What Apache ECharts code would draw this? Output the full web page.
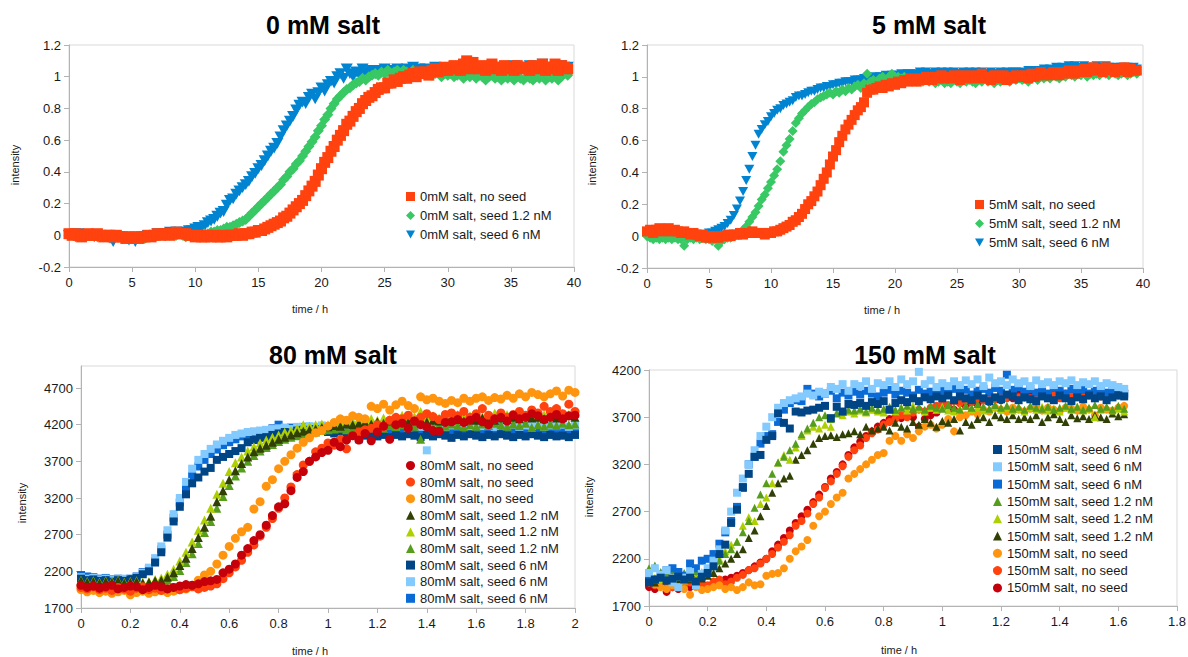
<!DOCTYPE html>
<html>
<head>
<meta charset="utf-8">
<title>Aggregation kinetics at different salt concentrations</title>
<script src="https://cdn.jsdelivr.net/npm/echarts@6/dist/echarts.min.js"></script>
<style>
  html, body { margin: 0; padding: 0; background: #ffffff; }
  #chart { width: 1188px; height: 657px; }
</style>
</head>
<body>
<div id="chart"></div>
<script>
// ---------- sampling times (hours) ----------
const hoursTop = [
  0,0.25,0.5,0.75,1,1.25,1.5,1.75,2,2.25,2.5,2.75,3,3.25,3.5,3.75,4,4.25,4.5,4.75,
  5,5.25,5.5,5.75,6,6.25,6.5,6.75,7,7.25,7.5,7.75,8,8.25,8.5,8.75,9,9.25,9.5,9.75,
  10,10.25,10.5,10.75,11,11.25,11.5,11.75,12,12.25,12.5,12.75,13,13.25,13.5,13.75,14,14.25,14.5,14.75,
  15,15.25,15.5,15.75,16,16.25,16.5,16.75,17,17.25,17.5,17.75,18,18.25,18.5,18.75,19,19.25,19.5,19.75,
  20,20.25,20.5,20.75,21,21.25,21.5,21.75,22,22.25,22.5,22.75,23,23.25,23.5,23.75,24,24.25,24.5,24.75,
  25,25.25,25.5,25.75,26,26.25,26.5,26.75,27,27.25,27.5,27.75,28,28.25,28.5,28.75,29,29.25,29.5,29.75,
  30,30.25,30.5,30.75,31,31.25,31.5,31.75,32,32.25,32.5,32.75,33,33.25,33.5,33.75,34,34.25,34.5,34.75,
  35,35.25,35.5,35.75,36,36.25,36.5,36.75,37,37.25,37.5,37.75,38,38.25,38.5,38.75,39,39.25,39.5
];

// ---------- 0 mM salt (normalised intensity) ----------
const noSeed0 = [
  0.01,0,0.01,0,-0.01,0,0.01,0,0,0.01,0,-0.01,0,0,-0.01,0,-0.01,
  -0.01,-0.02,-0.01,-0.02,-0.01,-0.02,-0.01,-0.01,
  0,-0.01,0,0.01,0,0.01,0.01,0,0.01,0.02,0.01,0.01,
  0.01,0,0,-0.01,0,-0.01,-0.01,0,-0.01,0,-0.01,-0.01,0,-0.01,0,0,0,0.01,0,0.01,
  0.01,0.02,0.02,0.03,0.03,0.04,0.05,0.06,
  0.07,0.08,0.09,0.11,0.12,0.14,0.16,0.18,
  0.2,0.22,0.25,0.28,0.31,0.34,0.38,0.42,
  0.46,0.49,0.53,0.56,0.6,0.63,0.66,0.7,
  0.72,0.75,0.78,0.8,0.83,0.85,0.87,0.88,
  0.9,0.92,0.93,0.93,0.96,0.96,0.98,0.97,
  0.99,1,0.99,1.01,1.02,1,1.03,1.02,
  1.03,1.01,1.04,1.05,1.03,1.04,1.06,1.04,
  1.05,1.07,1.05,1.04,1.08,1.1,1.05,1.09,
  1.06,1.05,1.07,1.04,1.06,1.08,1.05,1.06,
  1.04,1.07,1.05,1.06,1.04,1.07,1.05,1.06,
  1.05,1.04,1.07,1.05,1.06,1.08,1.04,1.06,
  1.05,1.08,1.04,1.07,1.06,1.05
];
const seed12nM0 = [
  0,0.01,0,0,-0.01,0,0,0.01,0,-0.01,0,-0.01,0,-0.01,-0.01,0,-0.01,
  -0.02,-0.01,-0.02,-0.02,-0.01,-0.02,-0.01,-0.02,
  -0.01,0,0,0.01,0,0,0.01,0,0.01,0,0.01,0,
  -0.01,0,0,-0.01,0,0,0.01,0.01,0.02,0.02,0.03,0.03,0.04,0.05,0.05,0.06,0.07,0.08,0.09,0.1,
  0.12,0.14,0.16,0.18,0.2,0.22,0.24,0.26,
  0.28,0.3,0.32,0.35,0.37,0.4,0.42,0.45,
  0.47,0.5,0.53,0.56,0.59,0.62,0.66,0.69,
  0.73,0.76,0.8,0.83,0.86,0.88,0.9,0.92,
  0.93,0.95,0.96,0.97,0.99,0.98,1,1.01,
  1.02,1.01,1.03,1.02,1.04,1.02,1.03,1.04,
  1.02,1.04,1.03,1.02,1.04,1.03,1.01,1.03,
  1.02,1.03,1.01,1.02,1.03,1,1.02,1.01,
  1.02,1,1.01,1.03,0.99,1.01,1,1.02,
  0.99,1.01,1,0.98,1,1.01,0.99,1,
  0.98,1,0.99,1.01,0.98,1,0.99,0.98,
  1,0.99,0.98,1,0.99,1.01,0.98,1,
  0.99,1.01,0.98,1,1.02,1.01
];
const seed6nM0 = [
  0,0,-0.01,0.01,0,-0.01,0,0,-0.01,0,-0.01,0,-0.01,-0.02,-0.04,-0.01,-0.01,
  -0.02,-0.01,-0.03,-0.02,-0.04,-0.01,-0.02,-0.01,
  0,-0.01,0,0.01,0,0.01,0.01,0.02,0.01,0.02,0.02,0.01,
  0.02,0.03,0.03,0.04,0.05,0.05,0.06,0.08,0.09,0.1,0.12,0.14,0.15,0.19,0.22,0.23,0.26,0.28,0.3,0.32,
  0.34,0.37,0.39,0.42,0.44,0.47,0.5,0.53,
  0.55,0.58,0.62,0.66,0.69,0.72,0.75,0.79,
  0.82,0.84,0.83,0.87,0.89,0.86,0.9,0.93,
  0.91,0.95,0.97,0.96,1,1.02,0.99,1.05,
  1.02,1,1.03,1.01,1.05,1.02,1.03,1.04,
  1.02,1.04,1.03,1.05,1.03,1.04,1.02,1.05,
  1.04,1.03,1.05,1.04,1.06,1.03,1.05,1.04,
  1.05,1.03,1.04,1.06,1.04,1.05,1.03,1.05,
  1.04,1.06,1.05,1.03,1.05,1.04,1.06,1.05,
  1.04,1.05,1.06,1.04,1.05,1.03,1.05,1.06,
  1.05,1.04,1.06,1.05,1.07,1.04,1.05,1.06,
  1.05,1.07,1.04,1.06,1.05,1.08,1.05,1.06,
  1.04,1.06,1.05,1.07,1.05,1.06
];

// ---------- 5 mM salt (normalised intensity) ----------
const noSeed5 = [
  0.03,0.04,0.02,0.04,0.05,0.03,0.04,0.05,0.03,0.04,0.03,0.02,0.03,0.02,0.01,0.02,0.01,
  0,0.01,-0.01,0,-0.01,0,-0.01,0,
  0,0.01,0,0.01,0.01,0.02,0.01,0.02,0.02,0.03,0.02,0.02,
  0.02,0.01,0.02,0.02,0.03,0.03,0.04,0.05,0.06,0.07,0.09,0.1,0.12,0.14,0.17,0.2,0.22,0.25,0.28,0.32,
  0.36,0.4,0.45,0.5,0.54,0.59,0.63,0.67,
  0.7,0.73,0.76,0.79,0.81,0.84,0.9,0.92,
  0.92,0.93,0.94,0.93,0.95,0.94,0.96,0.95,
  0.97,0.96,0.98,0.97,0.99,0.98,0.97,0.99,
  0.98,1,0.99,0.98,1,0.99,1.01,0.99,
  1,0.99,1.01,1,0.98,1.01,0.99,1,
  1.01,0.99,1,1.02,0.99,1,0.98,1.01,
  1,0.99,1.01,0.98,1,0.99,1.01,1,
  1,1.01,0.99,1.02,1,1.01,1.03,1.01,
  1.02,1.01,1.03,1.02,1.01,1.03,1.02,1.04,
  1.03,1.02,1.04,1.03,1.05,1.03,1.04,1.06,
  1.04,1.05,1.03,1.06,1.04,1.05,1.03,1.05,
  1.04,1.06,1.03,1.05,1.04,1.04
];
const seed12nM5 = [
  0,-0.01,-0.02,-0.01,-0.02,-0.01,-0.02,-0.01,-0.02,-0.01,-0.02,-0.02,-0.06,-0.02,-0.01,-0.02,-0.01,
  -0.02,-0.01,-0.02,-0.02,-0.03,-0.02,-0.06,-0.03,
  -0.02,-0.01,-0.01,0,0.01,0.02,0.04,0.06,0.09,0.12,0.15,0.19,
  0.23,0.26,0.3,0.34,0.38,0.42,0.47,0.53,0.57,0.61,0.66,0.71,0.74,0.77,0.79,0.81,0.83,0.84,0.86,0.87,
  0.88,0.89,0.9,0.89,0.91,0.9,0.92,0.91,
  0.93,0.92,0.94,0.95,0.93,0.96,1.02,0.97,
  0.98,0.97,0.99,1,0.98,1,1.02,1,
  1,0.99,1,0.98,0.99,0.98,0.97,0.98,
  0.97,0.98,0.97,0.98,0.96,0.97,0.98,0.96,
  0.97,0.96,0.98,0.97,0.96,0.98,0.97,0.98,
  0.97,0.96,0.98,0.97,0.99,0.97,0.98,0.96,
  0.98,0.97,0.99,0.98,0.97,0.99,0.98,0.99,
  0.98,0.99,0.97,0.99,1,0.98,1,0.99,
  1,0.99,1.01,1,0.99,1.01,1,1.02,
  1.01,1,1.02,1.01,1.03,1,1.02,1.01,
  1.02,1.01,1.03,1.02,1.01,1.03,1.02,1.01,
  1.02,1.03,1.01,1.02,1.03,1.02
];
const seed6nM5 = [
  0.02,0.03,0.01,0.03,0.04,0.02,0.03,0.04,0.02,0.03,0.02,0.02,0.01,0.02,0.01,0.01,0,
  0.01,0,0.01,0.02,0.02,0.03,0.04,0.05,
  0.06,0.08,0.1,0.13,0.17,0.22,0.28,0.35,0.42,0.5,0.57,0.64,
  0.67,0.7,0.72,0.75,0.77,0.79,0.8,0.82,0.83,0.84,0.85,0.87,0.88,0.88,0.89,0.9,0.91,0.91,0.92,0.93,
  0.93,0.94,0.94,0.95,0.95,0.96,0.96,0.97,
  0.97,0.97,0.98,0.98,0.98,0.99,0.99,0.99,
  1,0.99,1,1,1.01,1,1.01,1.01,
  1.01,1.02,1.01,1.02,1.02,1.01,1.02,1.03,
  1.02,1.03,1.02,1.02,1.03,1.02,1.03,1.02,
  1.03,1.02,1.03,1.02,1.02,1.03,1.02,1.03,
  1.02,1.03,1.02,1.03,1.02,1.02,1.03,1.02,
  1.02,1.03,1.02,1.03,1.02,1.03,1.03,1.02,
  1.03,1.02,1.04,1.03,1.04,1.03,1.04,1.05,
  1.04,1.05,1.04,1.06,1.05,1.06,1.05,1.07,
  1.06,1.07,1.06,1.05,1.07,1.06,1.05,1.06,
  1.07,1.06,1.05,1.07,1.06,1.05,1.06,1.05,
  1.06,1.05,1.06,1.05,1.06,1.05
];

// ---------- 80 mM salt (raw intensity) ----------
const hours80 = [
  0,0.025,0.05,0.075,0.1,0.125,0.15,0.175,0.2,0.225,
  0.25,0.275,0.3,0.325,0.35,0.375,0.4,0.425,0.45,0.475,
  0.5,0.525,0.55,0.575,0.6,0.625,0.65,0.675,0.7,0.725,
  0.75,0.775,0.8,0.825,0.85,0.875,0.9,0.925,0.95,0.975,
  1,1.025,1.05,1.075,1.1,1.125,1.15,1.175,1.2,1.225,
  1.25,1.275,1.3,1.325,1.35,1.375,1.4,1.425,1.45,1.475,
  1.5,1.525,1.55,1.575,1.6,1.625,1.65,1.675,1.7,1.725,
  1.75,1.775,1.8,1.825,1.85,1.875,1.9,1.925,1.95,1.975,
  2
];
const noSeed80a = [
  2010,1980,2000,1970,1990,2010,1960,1980,2000,1990,
  1950,1980,2010,1990,1960,1980,2000,2020,2010,2030,
  2060,2070,2090,2180,2230,2300,2420,2510,2620,2700,
  2830,2960,3080,3120,3300,3480,3560,3700,3760,3820,
  3850,3960,3900,3990,4050,3990,4080,3980,4100,4180,
  4000,4200,4220,4150,4250,4200,4170,4120,4110,4230,
  4240,4270,4230,4260,4300,4240,4200,4280,4300,4250,
  4330,4280,4300,4350,4320,4270,4300,4340,4280,4320,
  4330
];
const noSeed80b = [
  1980,1960,1990,1950,1970,1940,1980,1960,1930,1970,
  1990,1950,1970,1940,1960,1980,1950,1970,1990,1960,
  1980,2000,2030,2100,2180,2260,2350,2460,2560,2680,
  2800,2920,3060,3200,3350,3520,3650,3700,3830,3880,
  3950,3920,4000,3870,4050,4100,4130,4150,4200,4170,
  4260,4300,4280,4330,4250,4300,4350,4310,4270,4340,
  4360,4320,4380,4300,4350,4420,4330,4280,4360,4300,
  4340,4380,4330,4400,4360,4450,4380,4420,4350,4480,
  4380
];
const noSeed80c = [
  1950,1920,1940,1910,1930,1900,1920,1940,1880,1910,
  1930,1900,1920,1940,1910,1930,1950,1960,2010,2080,
  2150,2200,2300,2420,2540,2650,2740,2800,3050,3150,
  3360,3450,3600,3700,3790,3880,3960,4020,4090,4120,
  4180,4230,4280,4260,4320,4300,4280,4450,4420,4480,
  4400,4470,4520,4460,4420,4580,4540,4560,4520,4490,
  4530,4500,4560,4520,4560,4580,4530,4570,4550,4600,
  4560,4620,4580,4640,4610,4580,4620,4660,4590,4670,
  4640
];
const seed12nM80a = [
  2070,2050,2060,2040,2060,2050,2070,2040,2050,2060,
  2040,2050,2070,2080,2120,2180,2280,2380,2510,2660,
  2800,2950,3150,3300,3450,3570,3670,3760,3830,3880,
  3920,3960,4000,4030,4060,4090,4110,4130,4140,4160,
  4170,4190,4180,4210,4200,4220,4230,4210,4240,4220,
  4250,4230,4260,4240,4250,4270,4240,4260,4250,4280,
  4260,4270,4250,4280,4260,4290,4270,4260,4290,4270,
  4300,4280,4310,4290,4300,4280,4310,4290,4300,4320,
  4300
];
const seed12nM80b = [
  2080,2060,2070,2050,2070,2060,2080,2050,2060,2070,
  2050,2060,2090,2110,2160,2230,2340,2460,2600,2760,
  2900,3060,3250,3400,3560,3680,3760,3840,3900,3950,
  3990,4030,4060,4100,4120,4150,4200,4180,4200,4210,
  4200,4230,4220,4250,4240,4260,4250,4280,4260,4290,
  4270,4300,4330,4280,4310,4380,4300,4320,4290,4330,
  4310,4340,4300,4320,4350,4310,4330,4360,4320,4340,
  4310,4350,4330,4360,4320,4340,4370,4330,4350,4340,
  4360
];
const seed12nM80c = [
  2060,2040,2050,2030,2050,2040,2060,2030,2040,2050,
  2030,2040,2060,2050,2080,2130,2210,2320,2440,2580,
  2730,2880,3060,3220,3370,3500,3610,3700,3780,3840,
  3890,3930,3970,4000,4030,4050,4070,4090,4100,4120,
  4130,4140,4150,4130,4160,4150,4170,4160,4180,4150,
  4190,4170,4200,4160,4180,4000,4190,4170,4200,4180,
  4210,4190,4170,4200,4180,4210,4190,4220,4200,4180,
  4210,4190,4220,4160,4200,4180,4210,4190,4220,4200,
  4210
];
const seed6nM80a = [
  2100,2080,2090,2070,2080,2060,2080,2070,2090,2110,
  2160,2200,2320,2460,2660,2880,3080,3250,3400,3480,
  3560,3610,3720,3760,3800,3840,3880,3960,3990,4020,
  4030,4060,4080,4100,4090,4120,4130,4110,4140,4120,
  4100,4080,4110,4070,4060,4080,4050,4070,4040,4060,
  4030,4060,4040,4070,4050,4030,4060,4040,4070,4050,
  4020,4060,4040,4070,4050,4030,4060,4040,4070,4050,
  4030,4060,4040,4070,4050,4030,4060,4040,4050,4030,
  4060
];
const seed6nM80b = [
  2120,2100,2110,2090,2100,2080,2090,2100,2080,2120,
  2180,2250,2380,2540,2760,2980,3200,3420,3600,3720,
  3800,3870,3930,3980,4020,4060,4080,4100,4110,4120,
  4130,4140,4150,4160,4140,4170,4160,4180,4170,4190,
  4180,4170,4190,4180,4200,4180,4190,4170,4200,4180,
  4190,4170,4200,4180,4190,4170,3850,4180,4200,4170,
  4190,4180,4200,4170,4190,4180,4200,4170,4190,4180,
  4200,4170,4190,4180,4200,4170,4190,4180,4200,4170,
  4190
];
const seed6nM80c = [
  2150,2130,2120,2100,2110,2090,2100,2080,2100,2130,
  2190,2230,2340,2500,2700,2930,3140,3340,3500,3630,
  3720,3800,3860,3920,3960,4000,4040,4060,4080,4100,
  4120,4150,4200,4150,4160,4140,4170,4150,4160,4140,
  4150,4130,4150,4120,4140,4000,4130,4110,4130,4100,
  4120,4090,4110,4100,4120,4090,4110,4100,4120,4090,
  4110,4100,4120,4090,4110,4100,4120,4090,4110,4100,
  4120,4090,4110,4100,4120,4090,4110,4100,4120,4090,
  4110
];

// ---------- 150 mM salt (raw intensity) ----------
const hours150 = [
  0,0.02,0.04,0.06,0.08,0.1,0.12,0.14,0.16,0.18,
  0.2,0.22,0.24,0.26,0.28,0.3,0.32,0.34,0.36,0.38,
  0.4,0.42,0.44,0.46,0.48,0.5,0.52,0.54,0.56,0.58,
  0.6,0.62,0.64,0.66,0.68,0.7,0.72,0.74,0.76,0.78,
  0.8,0.82,0.84,0.86,0.88,0.9,0.92,0.94,0.96,0.98,
  1,1.02,1.04,1.06,1.08,1.1,1.12,1.14,1.16,1.18,
  1.2,1.22,1.24,1.26,1.28,1.3,1.32,1.34,1.36,1.38,
  1.4,1.42,1.44,1.46,1.48,1.5,1.52,1.54,1.56,1.58,
  1.6,1.62
];
const seed6nM150a = [
  1950,1980,2000,1970,1990,2010,1980,2000,1960,2010,
  2050,2120,2250,2350,2580,2720,2960,3100,3280,3300,
  3460,3500,3740,3640,3580,3760,3750,3770,3780,3800,
  3820,3690,3810,3760,3840,3830,3850,3820,3860,3840,
  3870,3780,3850,3880,3860,3900,3870,3910,3890,3920,
  3900,3930,3880,3920,3900,3880,3930,3900,3870,3910,
  3890,3940,3920,3880,3910,3890,3870,3920,3900,3880,
  3930,3900,3870,3910,3890,3930,3900,3920,3880,3910,
  3930,3920
];
const seed6nM150b = [
  2050,2100,2030,2080,1950,1900,2000,2060,1920,2040,
  2100,2180,2300,2500,2700,2900,3050,3200,3350,3500,
  3600,3700,3800,3850,3880,3900,3920,3950,3930,3970,
  3950,4020,4000,4050,3980,4050,4030,4080,4000,4060,
  4040,4080,4020,4100,4050,4080,4180,4050,4090,4020,
  4060,4030,4080,4040,4090,4050,4100,4030,4120,4060,
  4080,4040,4100,4060,4080,4030,4090,4050,4070,4040,
  4080,4060,4090,4040,4070,4050,4080,4030,4060,4040,
  4020,4000
];
const seed6nM150c = [
  2000,1980,2030,2080,2100,2060,2020,2150,2100,2180,
  2200,2250,2360,2480,2600,2750,2950,3200,3280,3420,
  3500,3520,3650,3780,3850,3880,3870,4000,3950,3920,
  3950,3980,3900,3960,3930,3970,3940,3980,3950,3920,
  3960,3990,3940,3980,3960,3930,3990,3950,3970,3940,
  3980,3950,4000,3960,3990,3940,3980,4000,3960,4010,
  3980,4150,3990,4020,3970,4000,3960,3990,3950,4010,
  3980,3950,4000,3970,3990,3950,3980,4000,3960,3990,
  3970,3950
];
const seed12nM150a = [
  2100,2130,2060,2040,2080,2020,2050,2000,2070,2040,
  2080,2120,2180,2250,2300,2380,2480,2600,2740,2880,
  3000,3100,3220,3280,3350,3420,3520,3580,3640,3700,
  3720,3680,3740,3760,3780,3770,3790,3760,3800,3780,
  3790,3810,3780,3800,3820,3790,3810,3780,3820,3800,
  3790,3830,3800,3780,3820,3800,3840,3810,3790,3830,
  3800,3820,3790,3810,3780,3820,3800,3790,3810,3780,
  3800,3820,3790,3810,3780,3800,3830,3790,3810,3780,
  3820,3790
];
const seed12nM150b = [
  2050,2000,1980,2020,1990,2010,1970,2030,2000,2060,
  2100,2150,2200,2280,2350,2380,2550,2640,2600,2780,
  2850,3000,3220,3300,3250,3380,3500,3560,3600,3580,
  3620,3600,3750,3720,3760,3740,3770,3750,3780,3760,
  3750,3780,3760,3800,3770,3820,3790,3760,3800,3780,
  3810,3770,3760,3790,3820,3780,3800,3770,3790,3810,
  3780,3800,3770,3790,3760,3800,3780,3810,3770,3790,
  3760,3800,3780,3810,3770,3790,3700,3780,3800,3770,
  3790,3760
];
const seed12nM150c = [
  1980,1950,2000,1970,1990,1960,2000,1980,2010,1990,
  2020,2050,2100,2150,2200,2250,2300,2420,2500,2650,
  2760,2900,3000,3050,3080,3250,3300,3350,3420,3480,
  3500,3510,3490,3520,3530,3550,3520,3600,3560,3580,
  3600,3560,3640,3600,3580,3650,3620,3680,3640,3600,
  3660,3640,3680,3560,3650,3620,3680,3700,3650,3720,
  3700,3680,3720,3680,3700,3680,3720,3650,3700,3730,
  3680,3650,3720,3690,3710,3680,3720,3700,3680,3740,
  3710,3730
];
const noSeed150a = [
  1950,1930,1900,1880,1920,1900,1880,1820,1900,1870,
  1880,1900,1920,1880,1900,1870,1900,1950,1920,1930,
  2020,2040,2050,2100,2200,2280,2330,2400,2550,2650,
  2700,2780,2850,2900,3050,3100,3150,3200,3250,3300,
  3320,3450,3500,3450,3520,3480,3550,3600,3620,3580,
  3620,3680,3550,3700,3720,3760,3730,3780,3760,3800,
  3780,3760,3800,3780,3760,3790,3810,3770,3800,3780,
  3760,3800,3790,3770,3810,3780,3720,3800,3780,3770,
  3800,3820
];
const noSeed150b = [
  1950,1920,1960,1940,1900,1930,1920,1950,1910,1940,
  1920,1960,1980,1930,1960,2000,2030,2080,2100,2150,
  2200,2250,2320,2380,2450,2550,2600,2680,2780,2850,
  2950,3020,3100,3180,3280,3350,3400,3480,3530,3570,
  3620,3650,3680,3720,3700,3750,3780,3760,3800,3820,
  3850,3830,3870,3850,3880,3860,3900,3880,3910,3890,
  3920,3900,3940,3910,3930,3900,3920,3940,3910,3930,
  3900,3950,3920,3940,3910,3930,3950,3920,3940,3960,
  3930,3980
];
const noSeed150c = [
  1900,1880,1920,1850,1900,1880,1920,1900,1930,1890,
  1910,1940,1960,1980,2000,2020,2050,2080,2120,2160,
  2200,2280,2350,2420,2500,2580,2650,2720,2800,2880,
  2960,3050,3120,3200,3300,3380,3440,3500,3550,3600,
  3640,3680,3700,3690,3720,3700,3600,3680,3720,3750,
  3800,3820,3780,3850,3820,3860,3840,3880,3860,3900,
  3880,3920,3900,3940,3910,3930,3900,3940,3920,3950,
  3930,3910,3950,3930,3960,3940,3920,3960,3940,3970,
  3950,3980
];

// ---------- tick labels ----------
const ticksTopX = [0, 5, 10, 15, 20, 25, 30, 35, 40];
const ticksTopY = [-0.2, 0, 0.2, 0.4, 0.6, 0.8, 1, 1.2];
const ticks80X = [0, 0.2, 0.4, 0.6, 0.8, 1, 1.2, 1.4, 1.6, 1.8, 2];
const ticks80Y = [1700, 2200, 2700, 3200, 3700, 4200, 4700];
const ticks150X = [0, 0.2, 0.4, 0.6, 0.8, 1, 1.2, 1.4, 1.6, 1.8];
const ticks150Y = [1700, 2200, 2700, 3200, 3700, 4200];

// ---------- styling ----------
const FONT = '"Liberation Sans", Arial, sans-serif';
const TEXT = '#1a1a1a';
const AXIS = '#b3b3b3';
const FRAME = '#d9d9d9';
const C = {
  red: '#ff420e', green: '#38c864', blue: '#0084d1',
  darkRed: '#c5000b', orange: '#ff950e',
  olive: '#314004', lime: '#aecf00', leaf: '#579d1c',
  navy: '#004586', sky: '#83caff', azure: '#0a6ad6'
};
const TRI_DOWN = 'path://M0,0L10,0L5,9Z';

function pairs(t, v) { return t.map((x, i) => [x, v[i]]); }

function scatter(name, color, symbol, size, gi, t, v) {
  return {
    type: 'scatter', name, xAxisIndex: gi, yAxisIndex: gi,
    symbol, symbolSize: size, symbolKeepAspect: true,
    itemStyle: { color, opacity: 1 },
    emphasis: { disabled: true }, silent: true,
    data: pairs(t, v)
  };
}

function gridBox(left, top, width, height) {
  return { left, top, width, height, show: true, borderColor: FRAME, borderWidth: 1,
           backgroundColor: 'transparent', containLabel: false, outerBoundsMode: 'none' };
}

function axis(dim, gi, min, max, ticks) {
  return {
    type: 'value', gridIndex: gi, min, max,
    axisLine: { show: true, onZero: false, lineStyle: { color: AXIS, width: 1 } },
    axisTick: { show: true, length: 5, customValues: ticks, lineStyle: { color: AXIS } },
    axisLabel: { customValues: ticks, formatter: v => String(v), color: TEXT,
                 fontSize: 13, fontFamily: FONT, margin: dim === 'x' ? 9 : 8 },
    splitLine: { show: false }
  };
}

function legendBox(names, left, top, gap) {
  return {
    data: names, orient: 'vertical', left, top, padding: 0,
    itemWidth: 9, itemHeight: 9, itemGap: gap, selectedMode: false,
    formatter: n => n.split('|')[0],
    textStyle: { fontSize: 13, fontFamily: FONT, color: TEXT, lineHeight: 15 }
  };
}

function label(text, x, y, font, rotate) {
  return {
    type: 'text', x, y, rotation: rotate ? Math.PI / 2 : 0, silent: true,
    style: { text, font, fill: rotate === undefined ? '#000' : TEXT,
             textAlign: 'center', textVerticalAlign: 'middle', align: 'center', verticalAlign: 'middle' }
  };
}

// ---------- series (later entries are drawn on top) ----------
const series = [
  scatter('0mM salt, seed 6 nM', C.blue, TRI_DOWN, 12, 0, hoursTop, seed6nM0),
  scatter('0mM salt, seed 1.2 nM', C.green, 'diamond', 11, 0, hoursTop, seed12nM0),
  scatter('0mM salt, no seed', C.red, 'rect', 11, 0, hoursTop, noSeed0),

  scatter('5mM salt, seed 6 nM', C.blue, TRI_DOWN, 10, 1, hoursTop, seed6nM5),
  scatter('5mM salt, seed 1.2 nM', C.green, 'diamond', 10, 1, hoursTop, seed12nM5),
  scatter('5mM salt, no seed', C.red, 'rect', 10, 1, hoursTop, noSeed5),

  scatter('80mM salt, seed 6 nM|c', C.azure, 'rect', 8, 2, hours80, seed6nM80c),
  scatter('80mM salt, seed 6 nM|b', C.sky, 'rect', 8, 2, hours80, seed6nM80b),
  scatter('80mM salt, seed 6 nM|a', C.navy, 'rect', 8, 2, hours80, seed6nM80a),
  scatter('80mM salt, seed 1.2 nM|c', C.leaf, 'triangle', 9, 2, hours80, seed12nM80c),
  scatter('80mM salt, seed 1.2 nM|b', C.lime, 'triangle', 9, 2, hours80, seed12nM80b),
  scatter('80mM salt, seed 1.2 nM|a', C.olive, 'triangle', 9, 2, hours80, seed12nM80a),
  scatter('80mM salt, no seed|c', C.orange, 'circle', 9, 2, hours80, noSeed80c),
  scatter('80mM salt, no seed|b', C.red, 'circle', 9, 2, hours80, noSeed80b),
  scatter('80mM salt, no seed|a', C.darkRed, 'circle', 9, 2, hours80, noSeed80a),

  scatter('150mM salt, no seed|c', C.darkRed, 'circle', 8, 3, hours150, noSeed150c),
  scatter('150mM salt, no seed|b', C.red, 'circle', 8, 3, hours150, noSeed150b),
  scatter('150mM salt, no seed|a', C.orange, 'circle', 8, 3, hours150, noSeed150a),
  scatter('150mM salt, seed 1.2 nM|c', C.olive, 'triangle', 8, 3, hours150, seed12nM150c),
  scatter('150mM salt, seed 1.2 nM|b', C.lime, 'triangle', 8, 3, hours150, seed12nM150b),
  scatter('150mM salt, seed 1.2 nM|a', C.leaf, 'triangle', 8, 3, hours150, seed12nM150a),
  scatter('150mM salt, seed 6 nM|c', C.azure, 'rect', 8, 3, hours150, seed6nM150c),
  scatter('150mM salt, seed 6 nM|b', C.sky, 'rect', 8, 3, hours150, seed6nM150b),
  scatter('150mM salt, seed 6 nM|a', C.navy, 'rect', 8, 3, hours150, seed6nM150a)
];

const option = {
  animation: false,
  backgroundColor: '#ffffff',
  textStyle: { fontFamily: FONT },
  grid: [
    gridBox(69, 45, 505, 222),
    gridBox(647, 45, 496, 223),
    gridBox(81, 366, 494, 242),
    gridBox(649, 370, 528, 236)
  ],
  xAxis: [
    axis('x', 0, 0, 40, ticksTopX),
    axis('x', 1, 0, 40, ticksTopX),
    axis('x', 2, 0, 2, ticks80X),
    axis('x', 3, 0, 1.8, ticks150X)
  ],
  yAxis: [
    axis('y', 0, -0.2, 1.2, ticksTopY),
    axis('y', 1, -0.2, 1.2, ticksTopY),
    axis('y', 2, 1700, 5000, ticks80Y),
    axis('y', 3, 1700, 4200, ticks150Y)
  ],
  legend: [
    legendBox(['0mM salt, no seed', '0mM salt, seed 1.2 nM', '0mM salt, seed 6 nM'], 406, 189, 4),
    legendBox(['5mM salt, no seed', '5mM salt, seed 1.2 nM', '5mM salt, seed 6 nM'], 975, 197, 4),
    legendBox(['80mM salt, no seed|a', '80mM salt, no seed|b', '80mM salt, no seed|c',
               '80mM salt, seed 1.2 nM|a', '80mM salt, seed 1.2 nM|b', '80mM salt, seed 1.2 nM|c',
               '80mM salt, seed 6 nM|a', '80mM salt, seed 6 nM|b', '80mM salt, seed 6 nM|c'], 406, 458, 1.6),
    legendBox(['150mM salt, seed 6 nM|a', '150mM salt, seed 6 nM|b', '150mM salt, seed 6 nM|c',
               '150mM salt, seed 1.2 nM|a', '150mM salt, seed 1.2 nM|b', '150mM salt, seed 1.2 nM|c',
               '150mM salt, no seed|a', '150mM salt, no seed|b', '150mM salt, no seed|c'], 993, 442, 2.3)
  ],
  graphic: [
    label('0 mM salt', 323, 25, 'bold 25px ' + FONT),
    label('5 mM salt', 929, 25, 'bold 25px ' + FONT),
    label('80 mM salt', 333, 355, 'bold 25px ' + FONT),
    label('150 mM salt', 925, 355, 'bold 25px ' + FONT),
    label('time / h', 310, 309, '11px ' + FONT, false),
    label('time / h', 882, 310, '11px ' + FONT, false),
    label('time / h', 310, 651, '11px ' + FONT, false),
    label('time / h', 899, 650, '11px ' + FONT, false),
    label('intensity', 15, 165, '11px ' + FONT, true),
    label('intensity', 592, 165, '11px ' + FONT, true),
    label('intensity', 22, 503, '11px ' + FONT, true),
    label('intensity', 589, 497, '11px ' + FONT, true)
  ],
  series
};

const chart = echarts.init(document.getElementById('chart'), null, { renderer: 'svg' });
chart.setOption(option);

// sanity check: every series must have one value per sampling time
const lengthChecks = [
  [hoursTop, [noSeed0, seed12nM0, seed6nM0, noSeed5, seed12nM5, seed6nM5]],
  [hours80, [noSeed80a, noSeed80b, noSeed80c, seed12nM80a, seed12nM80b, seed12nM80c, seed6nM80a, seed6nM80b, seed6nM80c]],
  [hours150, [noSeed150a, noSeed150b, noSeed150c, seed12nM150a, seed12nM150b, seed12nM150c, seed6nM150a, seed6nM150b, seed6nM150c]]
];
const bad = [];
lengthChecks.forEach(([t, list], k) => list.forEach((v, j) => { if (v.length !== t.length) bad.push(k + ':' + j + ' ' + v.length + '/' + t.length); }));
if (bad.length) setTimeout(() => { throw new Error('length mismatch ' + bad.join(', ')); }, 0);
</script>
</body>
</html>
